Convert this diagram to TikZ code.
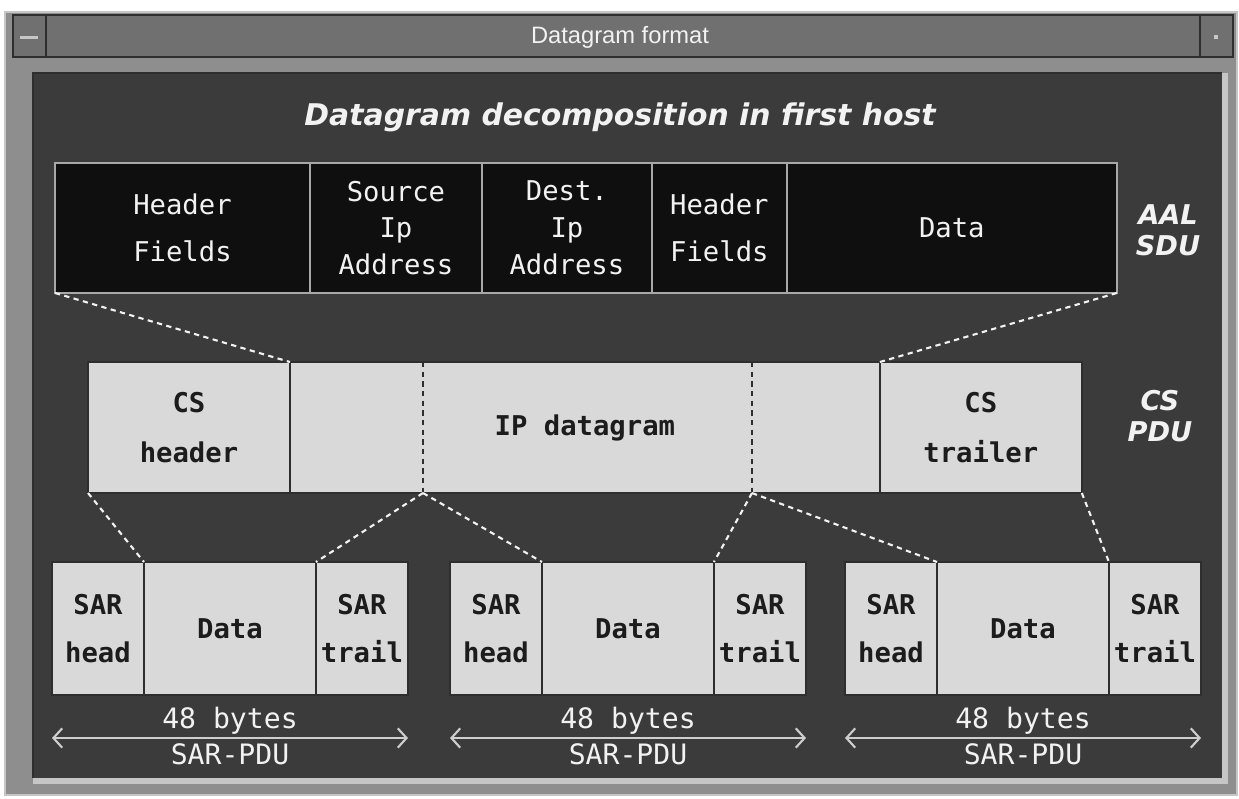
\documentclass[tikz,border=0pt]{standalone}
\usepackage{fontspec}
\setmainfont{Liberation Sans}
\newfontfamily\cellfamily{DejaVu Sans Mono}
\newfontfamily\captionfamily{DejaVu Sans}
\usetikzlibrary{positioning,arrows.meta}
\definecolor{frameGrey}{HTML}{8E8E8E}
\definecolor{titleGrey}{HTML}{707070}
\definecolor{bevelLight}{HTML}{C6C6C6}
\definecolor{panelDark}{HTML}{3B3B3B}
\definecolor{boxDark}{HTML}{0F0F0F}
\definecolor{boxLight}{HTML}{D9D9D9}
\definecolor{edgeLight}{HTML}{A8A8A8}
\definecolor{edgeDark}{HTML}{2E2E2E}
\definecolor{textLight}{HTML}{F2F2F2}
\definecolor{textDark}{HTML}{1C1C1C}
\newcommand{\cellfont}{\cellfamily\fontsize{15.5pt}{21pt}\selectfont}
\newcommand{\sidefont}{\captionfamily\bfseries\itshape\fontsize{15.5pt}{17.5pt}\selectfont}
\tikzset{
  cut line/.style ={draw=textLight,line width=1.2pt,dash pattern=on 3pt off 2.5pt},
  cut mark/.style ={draw=edgeDark,line width=0.6pt,dash pattern=on 3pt off 2.5pt},
  span arrow/.style={draw=textLight!85!black,line width=1.2pt,
                     {Straight Barb[length=5pt,width=11pt]}-{Straight Barb[length=5pt,width=11pt]}},
}

\begin{document}
\begin{tikzpicture}[x=0.02cm,y=-0.02cm,
    every node/.style={inner sep=0pt,outer sep=0pt},
    darkcell/.style={draw=edgeLight,line width=0.8pt,fill=boxDark,
                     text=textLight,font=\cellfont,align=center,
                     minimum height=2.6cm},
    lightcell/.style={draw=edgeDark,line width=0.8pt,fill=boxLight,
                      text=textDark,font=\cellfont\bfseries,align=center,
                      minimum height=2.62cm},
    sarcell/.style={lightcell,minimum height=2.66cm},
    sidelabel/.style={text=textLight,font=\sidefont,align=center},
  ]
  \useasboundingbox (0,0) rectangle (1239,798);
  % window
  \fill[white] (0,0) rectangle (1239,798);
  \fill[frameGrey] (5,12) rectangle (1237,795);
  \draw[bevelLight,line width=0.8pt] (5,12) rectangle (1237,795);
  \fill[titleGrey] (13,15) rectangle (1233,57);
  \draw[edgeDark,line width=0.8pt] (13,15) rectangle (1233,57);
  \draw[edgeDark,line width=0.8pt] (46,15) -- (46,57) (1200,15) -- (1200,57);
  \fill[bevelLight] (20,35.5) rectangle (38,39);
  \fill[bevelLight] (1214,35) rectangle (1218,39);
  \node[font=\fontsize{13.5pt}{16pt}\selectfont,text=textLight] (winTitle) at (620,37) {Datagram format};
  \fill[bevelLight] (33,73) rectangle (1228,784);
  \fill[panelDark] (33,73) rectangle (1222,778);
  \draw[edgeDark,line width=1pt] (33,778) -- (33,73) -- (1222,73);

  \node[font=\captionfamily\bfseries\itshape\fontsize{17pt}{20pt}\selectfont,
        text=textLight] (heading) at (620,117) {Datagram decomposition in first host};

  % AAL SDU
  \node[darkcell,minimum width=5.1cm,anchor=north west] (hdrA) at (55,163) {Header\\[6pt]Fields};
  \node[darkcell,minimum width=3.44cm,right=0pt of hdrA] (srcIp) {Source\\Ip\\Address};
  \node[darkcell,minimum width=3.4cm,right=0pt of srcIp] (dstIp) {Dest.\\Ip\\Address};
  \node[darkcell,minimum width=2.7cm,right=0pt of dstIp] (hdrB) {Header\\[6pt]Fields};
  \node[darkcell,minimum width=6.6cm,right=0pt of hdrB] (aalData) {Data};
  \node[sidelabel] (aalTag) at (1168,230) {AAL\\SDU};

  % CS PDU
  \node[lightcell,minimum width=4.04cm,anchor=north west] (csHead) at (88,362) {CS\\[7pt]header};
  \node[lightcell,minimum width=11.8cm,right=0pt of csHead] (ipDgram) {IP datagram};
  \node[lightcell,minimum width=4.04cm,right=0pt of ipDgram] (csTrail) {CS\\[7pt]trailer};
  \node[sidelabel] (csTag) at (1160,416) {CS\\PDU};
  \coordinate (cutAtop) at (423,362);
  \coordinate (cutA) at (423,493);
  \coordinate (cutBtop) at (752,362);
  \coordinate (cutB) at (752,493);
  \draw[cut mark] (cutAtop) -- (cutA);
  \draw[cut mark] (cutBtop) -- (cutB);

  % SAR PDUs
  \foreach \g/\x in {1/52,2/450,3/845}{
    \node[sarcell,minimum width=1.84cm,anchor=north west] (sarH\g) at (\x,562) {SAR\\[6pt]head};
    \node[sarcell,minimum width=3.44cm,right=0pt of sarH\g] (sarD\g) {Data};
    \node[sarcell,minimum width=1.84cm,right=0pt of sarD\g] (sarT\g) {SAR\\[6pt]trail};
    \coordinate (spanL\g) at (\x,738);
    \coordinate (spanR\g) at (\x+356,738);
    \draw[span arrow] (spanL\g) --
      node[above=2pt,font=\cellfamily\fontsize{16pt}{18pt}\selectfont,text=textLight] (bytes\g) {48 bytes}
      node[below=3pt,font=\cellfamily\fontsize{16pt}{18pt}\selectfont,text=textLight] (pdu\g) {SAR-PDU}
      (spanR\g);
  }

  % decomposition
  \draw[cut line] (hdrA.south west) -- (csHead.north east);
  \draw[cut line] (aalData.south east) -- (csTrail.north west);
  \draw[cut line] (csHead.south west) -- (sarD1.north west);
  \draw[cut line] (cutA) -- (sarT1.north west);
  \draw[cut line] (cutA) -- (sarD2.north west);
  \draw[cut line] (cutB) -- (sarT2.north west);
  \draw[cut line] (cutB) -- (sarD3.north west);
  \draw[cut line] (csTrail.south east) -- (sarT3.north west);
\end{tikzpicture}
\end{document}
